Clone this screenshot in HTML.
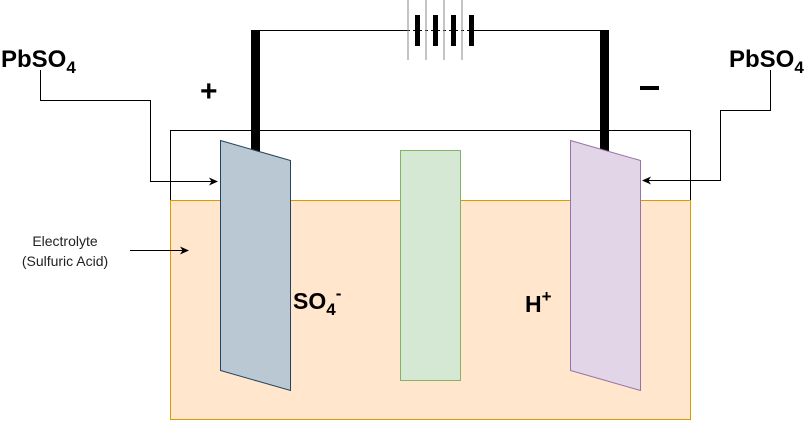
<!DOCTYPE html>
<html><head><meta charset="utf-8"><style>
html,body{margin:0;padding:0;background:#fff;width:812px;height:421px;overflow:hidden}
svg text{font-family:"Liberation Sans",Arial,sans-serif}
</style></head><body>
<svg width="812" height="421" viewBox="0 0 812 421" xmlns="http://www.w3.org/2000/svg">
<defs>
<marker id="a" markerWidth="10" markerHeight="10" refX="8" refY="4" orient="auto" markerUnits="userSpaceOnUse">
<path d="M0,0 L9,4 L0,8 L2.5,4 Z" fill="#000"/>
</marker>
</defs>
<!-- container outline (top part) -->
<polyline points="170.5,201 170.5,130.5 690.5,130.5 690.5,201" fill="none" stroke="#000" stroke-width="1"/>
<!-- electrolyte -->
<rect x="170.5" y="200.5" width="520" height="219" fill="#ffe6cc" stroke="#d79b00" stroke-width="1"/>
<!-- wires -->
<polyline points="255.5,30.5 407,30.5" fill="none" stroke="#000"/>
<polyline points="473,30.5 604.5,30.5" fill="none" stroke="#000"/>
<line x1="407" y1="30.5" x2="474" y2="30.5" stroke="#000" stroke-dasharray="3,3"/>
<!-- battery -->
<g stroke="#888" stroke-width="1">
<line x1="408" y1="0" x2="408" y2="60"/>
<line x1="426" y1="0" x2="426" y2="60"/>
<line x1="444" y1="0" x2="444" y2="60"/>
<line x1="462" y1="0" x2="462" y2="60"/>
</g>
<g fill="#000">
<rect x="415" y="15" width="5" height="31"/>
<rect x="433" y="15" width="5" height="31"/>
<rect x="451" y="15" width="5" height="31"/>
<rect x="469" y="15" width="5" height="31"/>
</g>
<!-- terminals -->
<rect x="251" y="30" width="9" height="122" fill="#000"/>
<rect x="600" y="30" width="9" height="122" fill="#000"/>
<!-- plates -->
<polygon points="220.5,140.5 290.5,160.5 290.5,390.5 220.5,370.5" fill="#bac8d3" stroke="#23445d"/>
<polygon points="570.5,140.5 640.5,160.5 640.5,390.5 570.5,370.5" fill="#e1d5e7" stroke="#9673a6"/>
<rect x="400.5" y="150.5" width="60" height="230" fill="#d5e8d4" stroke="#82b366"/>
<!-- connectors -->
<polyline points="40.5,70 40.5,100.5 150.5,100.5 150.5,181.5 217,181.5" fill="none" stroke="#000" marker-end="url(#a)"/>
<polyline points="770.5,70 770.5,110.5 720.5,110.5 720.5,180.5 643,180.5" fill="none" stroke="#000" marker-end="url(#a)"/>
<line x1="130" y1="250.5" x2="188" y2="250.5" stroke="#000" marker-end="url(#a)"/>
<!-- labels -->
<text x="1" y="67" font-size="24" font-weight="bold">PbSO<tspan font-size="17" dy="6">4</tspan></text>
<text x="729" y="67" font-size="24" font-weight="bold">PbSO<tspan font-size="17" dy="6">4</tspan></text>
<text x="200" y="101" font-size="30" font-weight="bold">+</text>
<rect x="640" y="86" width="19" height="4" fill="#000"/>
<text x="65" y="246" font-size="14" text-anchor="middle" fill="#222">Electrolyte</text>
<text x="65" y="266" font-size="14" text-anchor="middle" fill="#222">(Sulfuric Acid)</text>
<text x="293" y="309" font-size="23" font-weight="bold">SO<tspan font-size="17" dy="6">4</tspan><tspan font-size="17" dy="-16">-</tspan></text>
<text x="525" y="312" font-size="23" font-weight="bold">H<tspan font-size="17" dy="-10">+</tspan></text>
</svg>
</body></html>
